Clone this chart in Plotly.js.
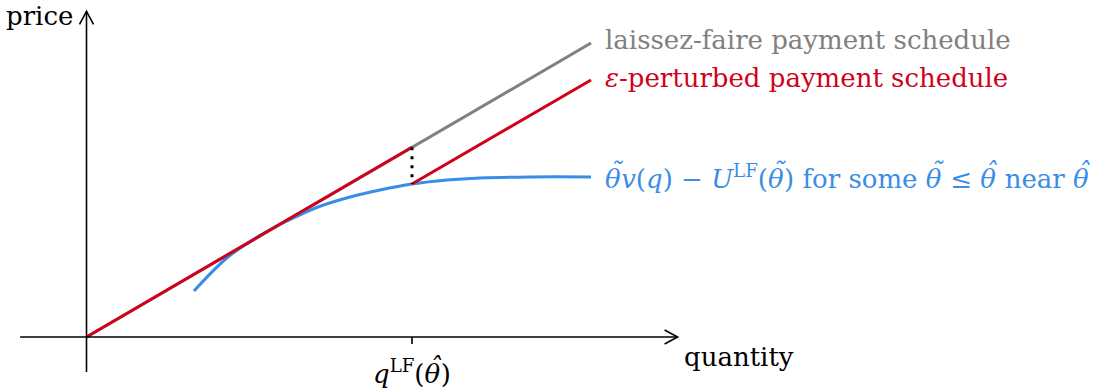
<!DOCTYPE html>
<html>
<head>
<meta charset="utf-8">
<script src="https://cdn.plot.ly/plotly-3.0.1.min.js"></script>
<style>html,body{margin:0;padding:0;background:#fff;}#chart{width:1119px;height:392px;}</style>
</head>
<body>
<div id="chart"></div>
<script>
// ---- data (abstract units: quantity, price) ----
const qLF = 5.0;
const laissezX = [0, 7.75];
const laissezY = [0, 4.523];
const pert1X = [0, qLF];
const pert1Y = [0, 2.92];
const pert2X = [qLF, 7.75];
const pert2Y = [2.354, 3.954];
const blueX = [1.651, 2.174, 2.696, 3.049, 3.556, 4.078, 4.508, 5.0, 5.538, 6.045, 6.813, 7.75];
const blueY = [0.708, 1.231, 1.58, 1.769, 2.0, 2.162, 2.262, 2.354, 2.415, 2.446, 2.462, 2.462];
const xAxisSpan = [-1.02, 9.08];
const yAxisSpan = [-0.54, 5.01];

// ---- layout helpers ----
const W = 1119, H = 392;
const ox = 86.5, oy = 337, ux = 65.1, uy = 65;
const xr = [-ox / ux, (W - ox) / ux];
const yr = [-(H - oy) / uy, oy / uy];
const px = p => p / ux, py = p => p / uy;

const RED = '#d0021b', GREY = '#808080', BLUE = '#3a8de6';
const FONT = 'DejaVu Serif';
const fs = 26;
// italic theta with an accent drawn over it
const acc = ch => '<i><span style="letter-spacing:-11.5px">θ</span><span style="baseline-shift:7px;letter-spacing:-1px">' + ch + '</span></i>';
const TT = acc('˜'), TH = acc('ˆ');

const traces = [
  {x: laissezX, y: laissezY, mode: 'lines', line: {color: GREY, width: 3}, hoverinfo: 'skip'},
  {x: blueX, y: blueY, mode: 'lines', line: {color: BLUE, width: 3, shape: 'spline', smoothing: 1}, hoverinfo: 'skip'},
  {x: pert1X, y: pert1Y, mode: 'lines', line: {color: RED, width: 3}, hoverinfo: 'skip'},
  {x: pert2X, y: pert2Y, mode: 'lines', line: {color: RED, width: 3}, hoverinfo: 'skip'},
  {x: [qLF, qLF], y: [pert1Y[1], pert2Y[0]], mode: 'lines', line: {color: '#000', width: 3, dash: '3px,6px'}, hoverinfo: 'skip'}
];

const ax = {color: '#000', width: 1.6};
const shapes = [
  {type: 'line', x0: xAxisSpan[0], x1: xAxisSpan[1], y0: 0, y1: 0, line: ax},
  {type: 'line', x0: 0, x1: 0, y0: yAxisSpan[0], y1: yAxisSpan[1], line: ax},
  {type: 'path', path: `M${xAxisSpan[1]-px(13)},${py(7)} L${xAxisSpan[1]},0 L${xAxisSpan[1]-px(13)},${-py(7)}`, line: ax},
  {type: 'path', path: `M${-px(7)},${yAxisSpan[1]-py(13)} L0,${yAxisSpan[1]} L${px(7)},${yAxisSpan[1]-py(13)}`, line: ax},
  {type: 'line', x0: qLF, x1: qLF, y0: 0, y1: -py(7), line: ax}
];

const mk = (x, y, text, color, xanchor) => ({x, y, text, xanchor, yanchor: 'middle', showarrow: false, font: {family: FONT, size: fs, color}});
const annotations = [
  mk(-px(12), yAxisSpan[1] - py(5), 'price', '#000', 'right'),
  mk(xAxisSpan[1] + px(4), -py(20), 'quantity', '#000', 'left'),
  mk(qLF, -py(33), '<i>q</i><sup>LF</sup>(' + TH + ')', '#000', 'center'),
  mk(laissezX[1] + px(12), laissezY[1] + py(3), 'laissez-faire payment schedule', GREY, 'left'),
  mk(pert2X[1] + px(12), pert2Y[1] + py(2), '<i>ε</i>-perturbed payment schedule', RED, 'left'),
  mk(blueX[blueX.length-1] + px(12), blueY[blueY.length-1] + py(1),
     TT + '<i>v</i>(<i>q</i>) − <i>U</i><sup>LF</sup>(' + TT + ') for some ' + TT + ' ≤ ' + TH + ' near ' + TH, BLUE, 'left')
];

const layout = {
  width: W, height: H,
  margin: {l: 0, r: 0, t: 0, b: 0, pad: 0},
  paper_bgcolor: '#fff', plot_bgcolor: '#fff',
  showlegend: false,
  xaxis: {range: xr, visible: false, fixedrange: true},
  yaxis: {range: yr, visible: false, fixedrange: true},
  shapes: shapes,
  annotations: annotations
};

Plotly.newPlot('chart', traces, layout, {staticPlot: true, displayModeBar: false});
</script>
</body>
</html>
